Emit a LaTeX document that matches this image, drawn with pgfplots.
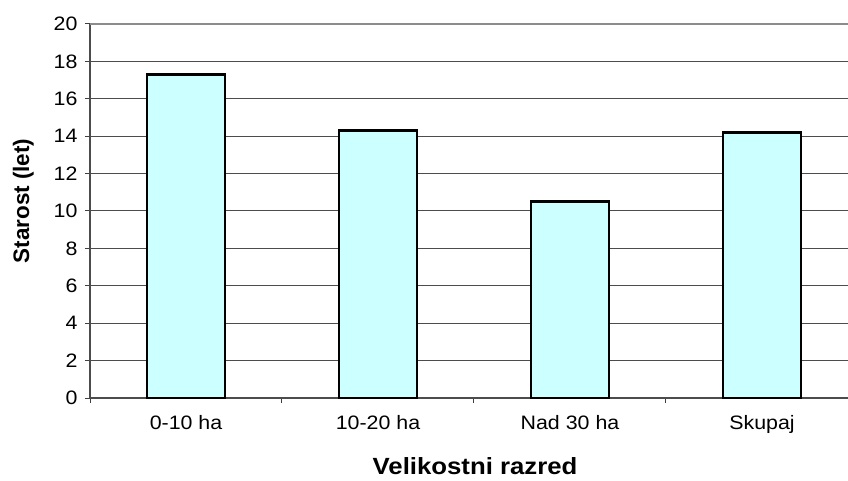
\documentclass[border=0pt]{standalone}
\usepackage{pgfplots}
\pgfplotsset{compat=1.18}
\usepackage{fontspec}
\setmainfont{Liberation Sans}[FakeStretch=1.1]
\newfontfamily\ylabfont{Liberation Sans}
\definecolor{barfill}{HTML}{CCFFFF}
\begin{document}
\begin{tikzpicture}
\useasboundingbox (0,0) rectangle (848bp,481bp);
\begin{axis}[
  at={(90bp,83bp)}, anchor=south west,
  scale only axis, width=758bp, height=374bp,
  xmin=-0.5, xmax=3.448, ymin=0, ymax=20,
  axis x line*=bottom, axis y line*=left,
  axis line style={-, line width=1.8bp, black!70},
  xtick={-0.5,0.5,1.5,2.5},
  xticklabels={0-10 ha,10-20 ha,Nad 30 ha,Skupaj},
  xticklabel style={xshift=96bp, yshift=-9bp},
  ytick={0,2,...,18},
  extra y ticks={20},
  extra y tick style={grid style={black!45, line width=2.2bp}},
  yticklabel style={xshift=-4bp},
  tick align=outside,
  major tick length=5bp,
  tick style={black!75, line width=1bp},
  ymajorgrids,
  grid style={black!70, line width=1bp},
  /pgf/number format/assume math mode=true,
  ticklabel style={font=\fontsize{19.5}{19.5}\selectfont},
  xlabel={Velikostni razred},
  xlabel style={font=\fontsize{23.5}{23.5}\selectfont\bfseries, at={(axis description cs:0.508,-0.182)}, anchor=center},
  ylabel={\ylabfont Starost (let)},
  ylabel style={font=\fontsize{22.5}{22.5}\selectfont\bfseries, at={(axis description cs:-0.088,0.527)}, anchor=center, rotate=0},
  clip=false,
]
\addplot[ybar, bar width=0.406, fill=barfill, draw=black, line width=2.6bp] coordinates {
  (0,17.3) (1,14.3) (2,10.5) (3,14.2)
};
\end{axis}
\end{tikzpicture}
\end{document}
